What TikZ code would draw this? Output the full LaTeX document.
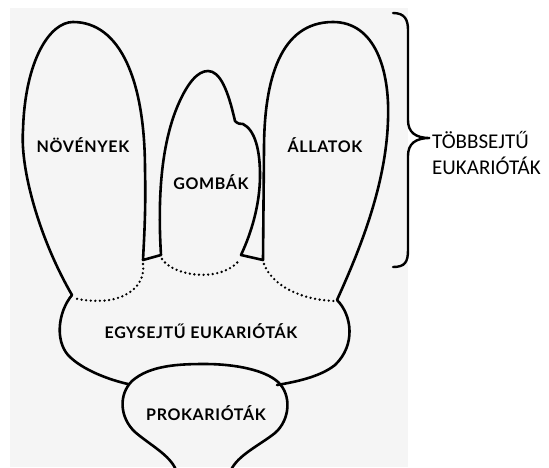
\documentclass[tikz,border=0pt]{standalone}
\usepackage{fontspec}
\newfontfamily\lblfont{Lato}[LetterSpace=4]
\newfontfamily\sidefont{Carlito}
\begin{document}
\begin{tikzpicture}[x=1pt,y=-1pt,
  outline/.style={line width=2.6pt, line join=round, line cap=round},
  dotline/.style={line width=2.6pt, line cap=round, dash pattern=on 0pt off 4.6pt},
  lbl/.style={font=\lblfont\bfseries\fontsize{16}{19}\selectfont, inner sep=0pt},
  side/.style={font=\sidefont\fontsize{21}{26}\selectfont, inner sep=0pt, anchor=base west}]
\useasboundingbox (0,0) rectangle (549,467);
\fill[white] (0,0) rectangle (549,467);
\fill[gray!8] (10,8) rectangle (408,467);
% plants, fungi, animals
\draw[outline] (72,295) .. controls (40,240) and (20,170) .. (23,130)
  .. controls (25,60) and (50,22) .. (73,22)
  .. controls (120,22) and (145,80) .. (145,170)
  .. controls (146,210) and (144,240) .. (143,260)
  -- (161,255)
  .. controls (157,190) and (163,140) .. (178,105)
  .. controls (188,82) and (198,71) .. (208,71)
  .. controls (220,71) and (228,90) .. (235,121)
  .. controls (238,124) and (240,124) .. (243,124)
  .. controls (255,130) and (260,150) .. (260,175)
  .. controls (260,210) and (248,240) .. (241,255)
  -- (263,260)
  -- (264,150)
  .. controls (264,80) and (280,22) .. (333,22)
  .. controls (375,22) and (390,70) .. (388,120)
  .. controls (386,190) and (355,260) .. (337,300);
% unicellular eukaryotes
\draw[outline] (72,295) .. controls (58,312) and (55,340) .. (68,355)
  .. controls (82,370) and (110,380) .. (128,384);
\draw[outline] (337,300) .. controls (352,315) and (356,345) .. (335,365)
  .. controls (320,377) and (295,382) .. (277,385);
% prokaryotes
\draw[outline] (176,470) .. controls (170,455) and (150,445) .. (135,432)
  .. controls (120,418) and (118,395) .. (132,381)
  .. controls (150,365) and (180,364) .. (205,364)
  .. controls (235,364) and (265,370) .. (278,382)
  .. controls (292,395) and (290,420) .. (275,433)
  .. controls (260,445) and (238,455) .. (231,470);
% dotted borders
\draw[dotline] (143,264) .. controls (145,280) and (135,295) .. (110,300)
  .. controls (95,302) and (80,300) .. (74,298);
\draw[dotline] (162,259) .. controls (175,278) and (225,282) .. (240,259);
\draw[dotline] (264,264) .. controls (272,285) and (300,300) .. (335,301);
% brace
\draw[line width=2.4pt, line cap=round] (393,13) .. controls (405,13) and (408,20) .. (408,30)
  -- (408,120) .. controls (408,132) and (415,138) .. (430,138)
  .. controls (415,138) and (408,144) .. (408,156)
  -- (408,250) .. controls (408,262) and (405,267) .. (393,267);
% labels
\node[lbl] (noveny) at (83,145.5) {NÖVÉNYEK};
\node[lbl] (gomba) at (211,182) {GOMBÁK};
\node[lbl] (allat) at (325,145.5) {ÁLLATOK};
\node[lbl] (egy) at (201,331) {EGYSEJTŰ EUKARIÓTÁK};
\node[lbl] (prok) at (206,413) {PROKARIÓTÁK};
\node[side] (tobb) at (432,148) {TÖBBSEJTŰ};
\node[side] (euk) at (432,174) {EUKARIÓTÁK};
\end{tikzpicture}
\end{document}
